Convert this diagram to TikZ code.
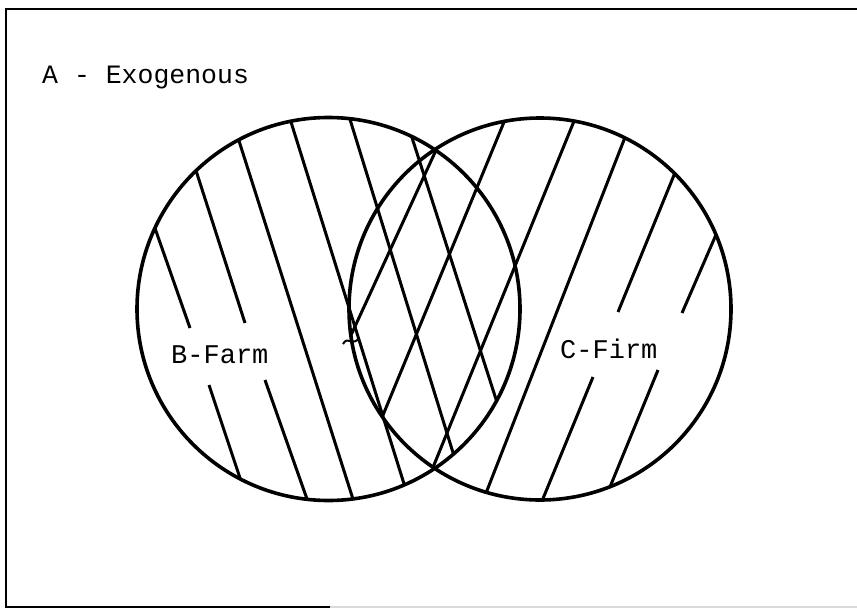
\documentclass[tikz,border=0pt]{standalone}
\usepackage{fontspec}
\newfontfamily\typer{Liberation Mono}
\begin{document}
\begin{tikzpicture}[x=1pt,y=-1pt,
  ring/.style={line width=3.6pt},
  hatch/.style={line width=3pt},
  framel/.style={line width=2.5pt},
  lab/.style={font=\typer\fontsize{27}{27}\selectfont, inner sep=0pt, anchor=base west}]
\useasboundingbox (0,0) rectangle (857,610);
\fill[white] (0,0) rectangle (857,610);
% frame
\draw[framel] (860,9) -- (6,9) -- (6,607) -- (330,607);
\draw[framel, black!15] (330,607) -- (860,607);
% centres
\coordinate (cB) at (328.5,309);
\coordinate (cC) at (540,309);
% hatching of B
\begin{scope}
  \clip (cB) circle (191.5pt);
  \draw[hatch] (150,214) -- (190,328);
  \draw[hatch] (209,385) -- (247,499);
  \draw[hatch] (191,155) -- (245,323);
  \draw[hatch] (265,380) -- (313,516);
  \draw[hatch] (233,122) -- (359,518);
  \draw[hatch] (286,106) -- (410,503);
  \draw[hatch] (344,100) -- (459,472);
  \draw[hatch] (406,119) -- (503,421);
\end{scope}
% hatching of C
\begin{scope}
  \clip (cC) circle (191pt);
  \draw[hatch] (445.5,129.5) -- (343.5,351.5);
  \draw[hatch] (509,110) -- (376,432);
  \draw[hatch] (581,104) -- (425,487);
  \draw[hatch] (631,122) -- (479,511);
  \draw[hatch] (681,158) -- (618,312);
  \draw[hatch] (593,377) -- (535,518);
  \draw[hatch] (725,214) -- (682,313);
  \draw[hatch] (658,370) -- (603,504);
\end{scope}
% small curl
\draw[line width=2pt] (343,344) .. controls (348,335) and (353,347) .. (359,338);
% circles
\draw[ring] (cB) circle (191.5pt);
\draw[ring] (cC) circle (191pt);
% labels
\node[lab, font=\typer\fontsize{26.5}{26.5}\selectfont] (A) at (42,84) {A - Exogenous};
\node[lab] (B) at (171,363) {B-Farm};
\node[lab] (C) at (560,358) {C-Firm};
\end{tikzpicture}
\end{document}
